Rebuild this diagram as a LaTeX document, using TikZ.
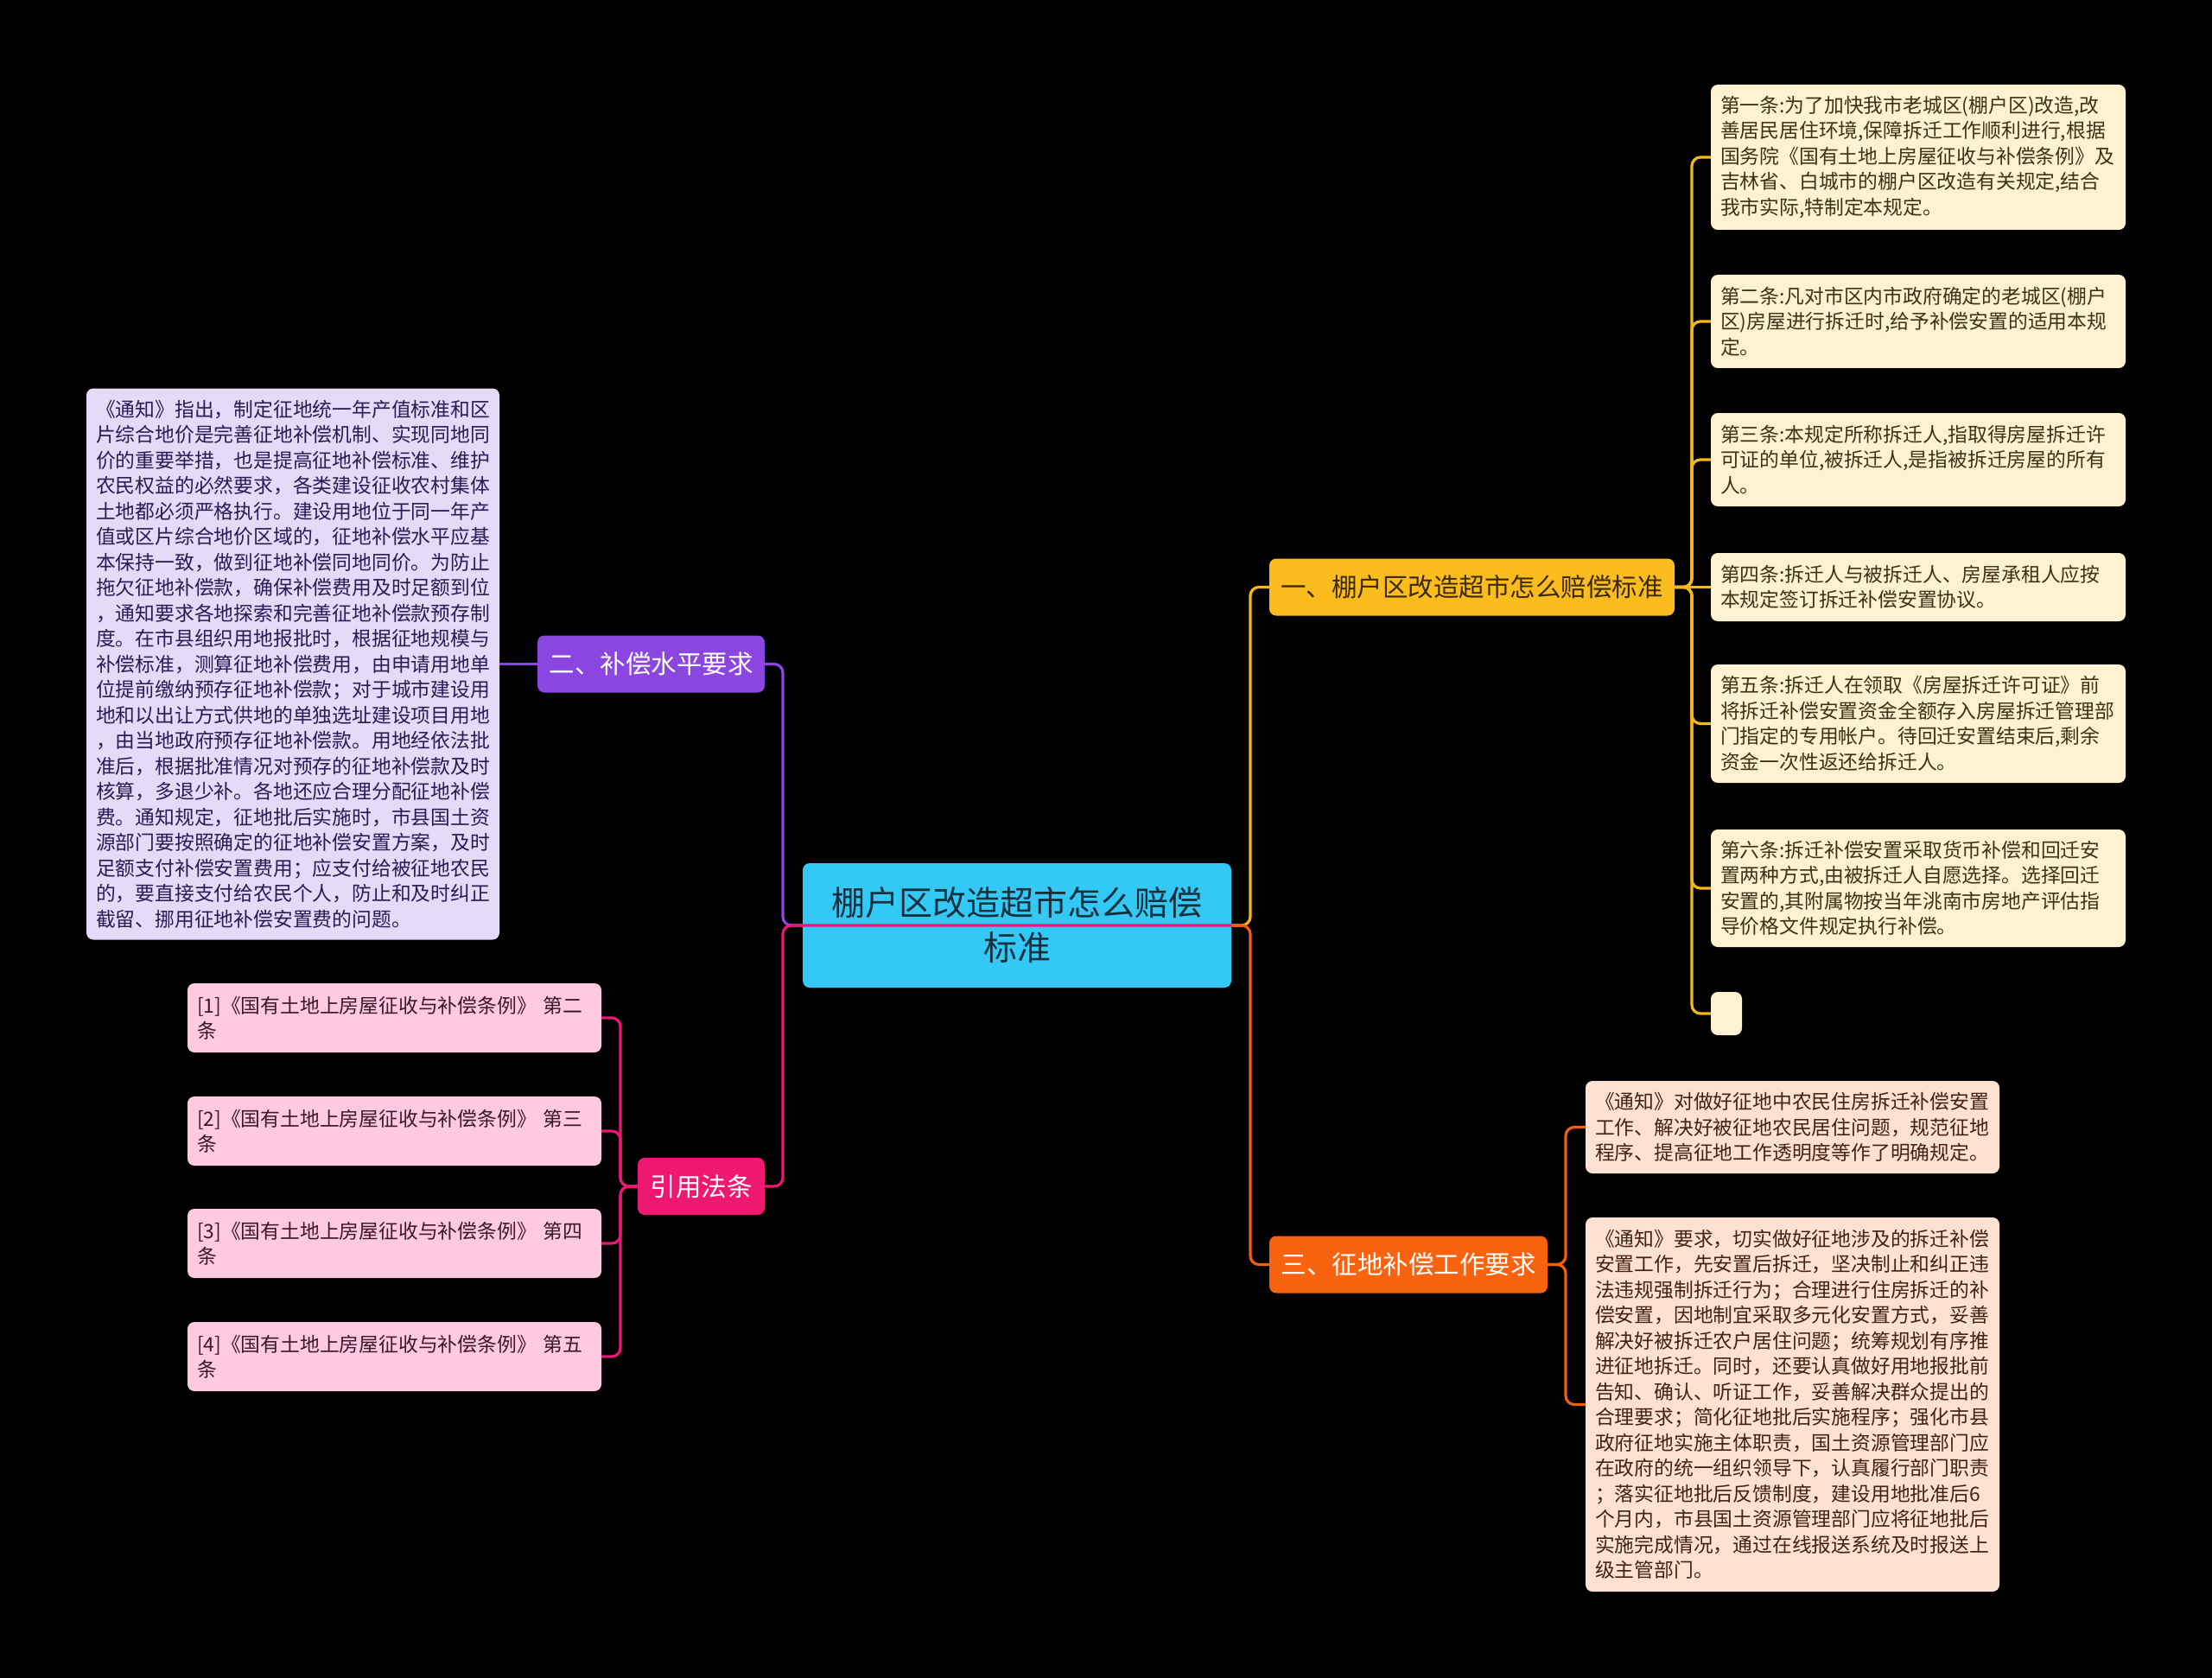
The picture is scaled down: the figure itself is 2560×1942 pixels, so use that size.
\documentclass[tikz,border=0pt]{standalone}
\usepackage{fontspec}
\setmainfont{Noto Sans CJK SC}
\definecolor{rootcol}{HTML}{33C8F6}
\definecolor{roottxt}{HTML}{16303C}
\definecolor{yelcol}{HTML}{FBBD1D}
\definecolor{yeltxt}{HTML}{3B2A05}
\definecolor{purcol}{HTML}{8B45E0}
\definecolor{pinkcol}{HTML}{EE1871}
\definecolor{orgcol}{HTML}{F9620F}
\definecolor{leafyel}{HTML}{FFF2D0}
\definecolor{leafyeltxt}{HTML}{3D3218}
\definecolor{leafpur}{HTML}{E5DAF8}
\definecolor{leafpurtxt}{HTML}{2B1A55}
\definecolor{leafpink}{HTML}{FFC9E1}
\definecolor{leafpinktxt}{HTML}{3A1A28}
\definecolor{leaforg}{HTML}{FDE1D3}
\definecolor{leaforgtxt}{HTML}{3D2415}
\definecolor{lineyel}{HTML}{F5B91E}
\definecolor{linepur}{HTML}{8B45E0}
\definecolor{linepink}{HTML}{E91872}
\definecolor{lineorg}{HTML}{F2600E}
\newcommand\leaffont{\fontsize{22.8}{29.5}\selectfont}
\newcommand\branchfont{\fontsize{29.5}{36}\selectfont}
\newcommand\rootfont{\fontsize{39}{52}\selectfont}
\begin{document}
\begin{tikzpicture}[x=1pt,y=-1pt,
  rootbox/.style={fill=rootcol,text=roottxt,rounded corners=8pt,align=center,font=\rootfont,inner sep=0pt},
  branchbox/.style={rounded corners=8pt,align=center,font=\branchfont,inner sep=0pt,minimum height=66pt},
  leafbox/.style={rounded corners=8pt,align=left,font=\leaffont,inner xsep=11pt,inner ysep=0pt},
  yleaf/.style={leafbox,fill=leafyel,text=leafyeltxt,minimum width=480pt,text width=458pt},
  pleaf/.style={leafbox,fill=leafpur,text=leafpurtxt,minimum width=478pt,text width=456pt},
  kleaf/.style={leafbox,fill=leafpink,text=leafpinktxt,minimum width=479pt,text width=457pt},
  oleaf/.style={leafbox,fill=leaforg,text=leaforgtxt,minimum width=479pt,text width=457pt},
  conn/.style={line width=3.2pt,rounded corners=10pt},
  cyellow/.style={conn,draw=lineyel},
  cpurple/.style={conn,draw=linepur},
  cpink/.style={conn,draw=linepink},
  corange/.style={conn,draw=lineorg}
]
\useasboundingbox[fill=black] (0,0) rectangle (2560,1942);

% spine coordinates
\coordinate (rs) at (1447,0);
\coordinate (ls) at (906,0);
\coordinate (ys) at (1958,0);
\coordinate (ps) at (718,0);
\coordinate (os) at (1812,0);

% root
\node[rootbox,minimum width=496pt,minimum height=144pt] (root) at (1177,1071) {棚户区改造超市怎么赔偿\\标准};

% branches
\node[branchbox,fill=yelcol,text=yeltxt,minimum width=469pt] (b1) at (1703.5,679.5) {一、棚户区改造超市怎么赔偿标准};
\node[branchbox,fill=purcol,text=white,minimum width=263pt] (b2) at (753.5,768.5) {二、补偿水平要求};
\node[branchbox,fill=pinkcol,text=white,minimum width=147pt] (b4) at (811.5,1373) {引用法条};
\node[branchbox,fill=orgcol,text=white,minimum width=322pt] (b3) at (1630,1463.5) {三、征地补偿工作要求};

% right leaves (yellow)
\node[yleaf,minimum height=168pt] (l1) at (2220,182) {第一条:为了加快我市老城区(棚户区)改造,改\\善居民居住环境,保障拆迁工作顺利进行,根据\\国务院《国有土地上房屋征收与补偿条例》及\\吉林省、白城市的棚户区改造有关规定,结合\\我市实际,特制定本规定。};
\node[yleaf,minimum height=108pt] (l2) at (2220,372) {第二条:凡对市区内市政府确定的老城区(棚户\\区)房屋进行拆迁时,给予补偿安置的适用本规\\定。};
\node[yleaf,minimum height=108pt] (l3) at (2220,532) {第三条:本规定所称拆迁人,指取得房屋拆迁许\\可证的单位,被拆迁人,是指被拆迁房屋的所有\\人。};
\node[yleaf,minimum height=79pt] (l4) at (2220,679.5) {第四条:拆迁人与被拆迁人、房屋承租人应按\\本规定签订拆迁补偿安置协议。};
\node[yleaf,minimum height=137pt] (l5) at (2220,837.5) {第五条:拆迁人在领取《房屋拆迁许可证》前\\将拆迁补偿安置资金全额存入房屋拆迁管理部\\门指定的专用帐户。待回迁安置结束后,剩余\\资金一次性返还给拆迁人。};
\node[yleaf,minimum height=136pt] (l6) at (2220,1028) {第六条:拆迁补偿安置采取货币补偿和回迁安\\置两种方式,由被拆迁人自愿选择。选择回迁\\安置的,其附属物按当年洮南市房地产评估指\\导价格文件规定执行补偿。};
\node[fill=leafyel,rounded corners=8pt,minimum width=36pt,minimum height=50pt,inner sep=0pt] (l7) at (1998,1173) {};

% left leaf (purple)
\node[pleaf,minimum height=638pt] (lv) at (339,768.5) {《通知》指出，制定征地统一年产值标准和区\\片综合地价是完善征地补偿机制、实现同地同\\价的重要举措，也是提高征地补偿标准、维护\\农民权益的必然要求，各类建设征收农村集体\\土地都必须严格执行。建设用地位于同一年产\\值或区片综合地价区域的，征地补偿水平应基\\本保持一致，做到征地补偿同地同价。为防止\\拖欠征地补偿款，确保补偿费用及时足额到位\\，通知要求各地探索和完善征地补偿款预存制\\度。在市县组织用地报批时，根据征地规模与\\补偿标准，测算征地补偿费用，由申请用地单\\位提前缴纳预存征地补偿款；对于城市建设用\\地和以出让方式供地的单独选址建设项目用地\\，由当地政府预存征地补偿款。用地经依法批\\准后，根据批准情况对预存的征地补偿款及时\\核算，多退少补。各地还应合理分配征地补偿\\费。通知规定，征地批后实施时，市县国土资\\源部门要按照确定的征地补偿安置方案，及时\\足额支付补偿安置费用；应支付给被征地农民\\的，要直接支付给农民个人，防止和及时纠正\\截留、挪用征地补偿安置费的问题。};

% pink leaves
\node[kleaf,minimum height=80pt] (p1) at (456.5,1178) {[1]《国有土地上房屋征收与补偿条例》 第二\\条};
\node[kleaf,minimum height=80pt] (p2) at (456.5,1309) {[2]《国有土地上房屋征收与补偿条例》 第三\\条};
\node[kleaf,minimum height=80pt] (p3) at (456.5,1439) {[3]《国有土地上房屋征收与补偿条例》 第四\\条};
\node[kleaf,minimum height=80pt] (p4) at (456.5,1570) {[4]《国有土地上房屋征收与补偿条例》 第五\\条};

% orange leaves
\node[oleaf,minimum height=107pt] (o1) at (2074.5,1304.5) {《通知》对做好征地中农民住房拆迁补偿安置\\工作、解决好被征地农民居住问题，规范征地\\程序、提高征地工作透明度等作了明确规定。};
\node[oleaf,minimum height=433pt] (o2) at (2074.5,1625.5) {《通知》要求，切实做好征地涉及的拆迁补偿\\安置工作，先安置后拆迁，坚决制止和纠正违\\法违规强制拆迁行为；合理进行住房拆迁的补\\偿安置，因地制宜采取多元化安置方式，妥善\\解决好被拆迁农户居住问题；统筹规划有序推\\进征地拆迁。同时，还要认真做好用地报批前\\告知、确认、听证工作，妥善解决群众提出的\\合理要求；简化征地批后实施程序；强化市县\\政府征地实施主体职责，国土资源管理部门应\\在政府的统一组织领导下，认真履行部门职责\\；落实征地批后反馈制度，建设用地批准后6\\个月内，市县国土资源管理部门应将征地批后\\实施完成情况，通过在线报送系统及时报送上\\级主管部门。};

% main connectors
\draw[cpurple] (root.west) -- (root.west -| ls) |- (b2.east);
\draw[cyellow] (root.east) -- (root.east -| rs) |- (b1.west);
\draw[corange] (root.east) -- (root.east -| rs) |- (b3.west);
\draw[cpink] (root.east) -- (root.east -| ls) |- (b4.east);

% yellow leaf connectors
\foreach \n in {l1,l2,l3,l5,l6,l7}{
  \draw[cyellow] (b1.east) -- (b1.east -| ys) |- (\n.west);
}
\draw[cyellow] (b1.east) -- (l4.west);

% purple leaf connector
\draw[cpurple] (b2.west) -- (lv.east);

% pink leaf connectors
\foreach \n in {p1,p2,p3,p4}{
  \draw[cpink] (b4.west) -- (b4.west -| ps) |- (\n.east);
}

% orange leaf connectors
\foreach \n in {o1,o2}{
  \draw[corange] (b3.east) -- (b3.east -| os) |- (\n.west);
}
\end{tikzpicture}
\end{document}
